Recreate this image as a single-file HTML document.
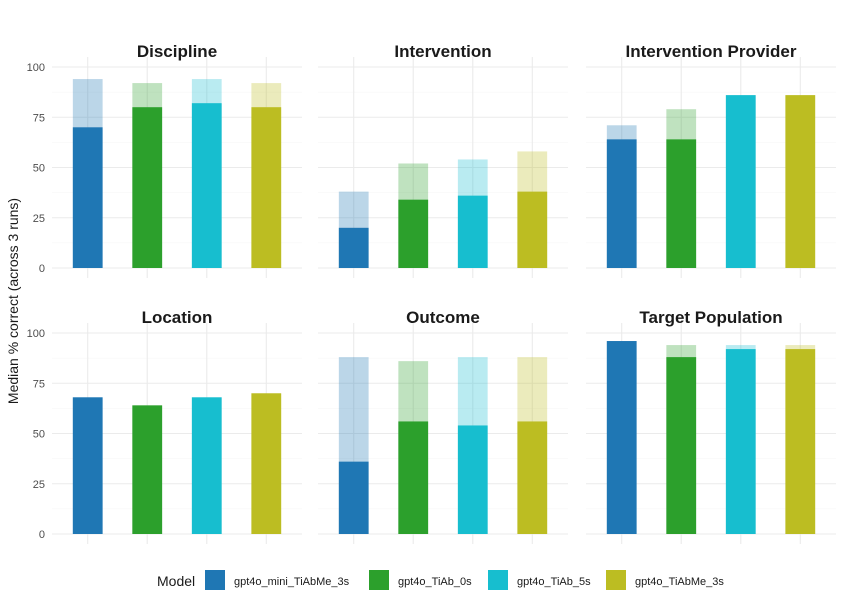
<!DOCTYPE html>
<html><head><meta charset="utf-8"><style>
body{margin:0;background:#fff;font-family:"Liberation Sans",sans-serif;}
</style></head><body>
<svg id="c" width="844" height="607" xmlns="http://www.w3.org/2000/svg"></svg>
<script>
const panels=["Discipline","Intervention","Intervention Provider","Location","Outcome","Target Population"];
const models=["gpt4o_mini_TiAbMe_3s","gpt4o_TiAb_0s","gpt4o_TiAb_5s","gpt4o_TiAbMe_3s"];
const colors=["#1f77b4","#2ca02c","#17becf","#bcbd22"];
const solidVals=[[70,80,82,80],[20,34,36,38],[64,64,86,86],[68,64,68,70],[36,56,54,56],[96,88,92,92]];
const lightVals=[[94,92,94,92],[38,52,54,58],[71,79,86,86],[68,64,68,70],[88,86,88,88],[96,94,94,94]];
const yTicks=[0,25,50,75,100];
const NS="http://www.w3.org/2000/svg";
const svg=document.getElementById('c');
function mk(t,a,p){const e=document.createElementNS(NS,t);for(const k in a)e.setAttribute(k,a[k]);(p||svg).appendChild(e);return e;}
const px=[52,318,586], pw=250;
const py=[{top:67,bot:268},{top:333,bot:534}];
panels.forEach((name,pi)=>{
  const col=pi%3,row=Math.floor(pi/3);
  const x0=px[col],yb=py[row].bot,yt=py[row].top;
  const y=v=>yb+(yt-yb)*v/100;
  const step=pw/4.2;
  const xc=i=>x0+step*(i+0.6);
  const g=mk('g',{});
  
  
  const top=y(105),bot=y(-5);
  for(let v=12.5;v<100;v+=25) mk('line',{x1:x0,x2:x0+pw,y1:y(v),y2:y(v),stroke:'#f4f4f4','stroke-width':0.6},g);
  yTicks.forEach(v=>mk('line',{x1:x0,x2:x0+pw,y1:y(v),y2:y(v),stroke:'#ebebeb','stroke-width':1.1},g));
  models.forEach((m,i)=>mk('line',{x1:xc(i),x2:xc(i),y1:top,y2:bot,stroke:'#ebebeb','stroke-width':1.1},g));
  const t=mk('text',{x:x0+pw/2,y:yt-10,'text-anchor':'middle','font-size':17,'font-weight':'bold',fill:'#1a1a1a'},g);
  t.textContent=name;
  
  
  if(col===0) yTicks.forEach(v=>{const l=mk('text',{x:x0-7,y:y(v)+4,'text-anchor':'end','font-size':11,fill:'#4d4d4d'},g);l.textContent=v;
    
    });
  models.forEach((m,i)=>{
    const bw=step*0.5;
    const r1=mk('rect',{x:xc(i)-bw/2,y:y(lightVals[pi][i]),width:bw,height:y(0)-y(lightVals[pi][i]),fill:colors[i],'fill-opacity':0.3},g);
    
    
    const r2=mk('rect',{x:xc(i)-bw/2,y:y(solidVals[pi][i]),width:bw,height:y(0)-y(solidVals[pi][i]),fill:colors[i]},g);
    
    
  });
});
const yl=mk('text',{x:18,y:301,transform:'rotate(-90 18 301)','text-anchor':'middle','font-size':14,fill:'#1a1a1a'});
yl.textContent='Median % correct (across 3 runs)';


const lg=mk('g',{});


const lt=mk('text',{x:157,y:586,'font-size':14,fill:'#1a1a1a'},lg);lt.textContent='Model';
const lx=[205,369,488,606];
models.forEach((m,i)=>{
  const r=mk('rect',{x:lx[i],y:570,width:20,height:20,fill:colors[i]},lg);
  
  
  const t=mk('text',{x:lx[i]+29,y:585,'font-size':11,fill:'#1a1a1a'},lg);t.textContent=m;
  
  
});
</script>
</body></html>
